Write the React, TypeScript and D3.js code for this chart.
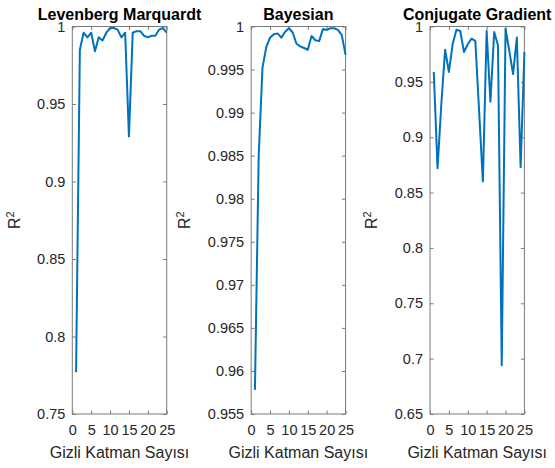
import React, { useEffect, useRef } from 'react';
import * as d3 from 'd3';

// hidden layer counts on the x axis
const hiddenLayers = [1, 2, 3, 4, 5, 6, 7, 8, 9, 10, 11, 12, 13, 14, 15, 16, 17, 18, 19, 20, 21, 22, 23, 24, 25];

// R^2 per training algorithm
const lmValues = [0.777, 0.985, 0.996, 0.993, 0.996, 0.984, 0.993, 0.991, 0.996, 0.999, 0.999, 0.998, 0.993,
    0.996, 0.929, 0.996, 0.997, 0.997, 0.994, 0.993, 0.994, 0.994, 0.998, 0.999, 0.996];
const bayesValues = [0.9578, 0.985, 0.9952, 0.9976, 0.9987, 0.9991, 0.9992, 0.9987, 0.9994, 0.9998, 0.9993,
    0.998, 0.9977, 0.9975, 0.9973, 0.9989, 0.9984, 0.9983, 0.9997, 0.9996, 0.9998, 0.9998, 0.9996, 0.999, 0.9967];
const cgValues = [0.959, 0.872, 0.93, 0.979, 0.959, 0.984, 0.997, 0.996, 0.977, 0.984, 0.989, 0.987, 0.924,
    0.86, 0.996, 0.932, 0.995, 0.983, 0.694, 0.998, 0.978, 0.957, 0.99, 0.873, 0.977];

const xTicks = [0, 5, 10, 15, 20, 25];
const lmTicks = [0.75, 0.8, 0.85, 0.9, 0.95, 1];
const bayesTicks = [0.955, 0.96, 0.965, 0.97, 0.975, 0.98, 0.985, 0.99, 0.995, 1];
const cgTicks = [0.65, 0.7, 0.75, 0.8, 0.85, 0.9, 0.95, 1];

const titles = ['Levenberg Marquardt', 'Bayesian', 'Conjugate Gradient'];
const xLabel = 'Gizli Katman Sayısı';

const FONT = '"Liberation Sans", Arial, Helvetica, sans-serif';

const App = () => {
    const ref = useRef<SVGSVGElement>(null);

    useEffect(() => {
        const svg = d3.select(ref.current);
        svg.selectAll('*').remove();

        const panels = [
            { title: titles[0], values: lmValues, ticks: lmTicks },
            { title: titles[1], values: bayesValues, ticks: bayesTicks },
            { title: titles[2], values: cgValues, ticks: cgTicks },
        ];

        const W = 94.4, top = 26.5, bottom = 414;

        panels.forEach((p, i) => {
            const left = 72.3 + 178.85 * i;
            const g = svg.append('g');

            const x = d3.scaleLinear().domain([0, 25]).range([left, left + W]);
            const y = d3.scaleLinear().domain([p.ticks[0], p.ticks[p.ticks.length - 1]]).range([bottom, top]);

            const styleAxis = (a) => {
                a.select('.domain').remove();
                a.attr('font-size', 14.5).attr('font-family', FONT);
                a.selectAll('line').attr('stroke', '#7a7a7a');
                a.selectAll('text').attr('fill', '#262626');
            };

            g.append('g')
                .attr('transform', `translate(0,${bottom})`)
                .call(d3.axisBottom(x).tickValues(xTicks).tickSizeInner(-3.5).tickSizeOuter(0).tickPadding(11))
                .call(styleAxis);
            g.append('g')
                .attr('transform', `translate(0,${top})`)
                .call(d3.axisTop(x).tickValues(xTicks).tickSizeInner(-3.5).tickSizeOuter(0).tickFormat(() => ''))
                .call(styleAxis);
            const yAx = g.append('g')
                .attr('transform', `translate(${left},0)`)
                .call(d3.axisLeft(y).tickValues(p.ticks).tickSizeInner(-3.5).tickSizeOuter(0).tickPadding(7)
                    .tickFormat(d => String(+(+d).toFixed(3))))
                .call(styleAxis);
            g.append('g')
                .attr('transform', `translate(${left + W},0)`)
                .call(d3.axisRight(y).tickValues(p.ticks).tickSizeInner(-3.5).tickSizeOuter(0).tickFormat(() => ''))
                .call(styleAxis);

            g.append('rect')
                .attr('x', left).attr('y', top)
                .attr('width', W).attr('height', bottom - top)
                .attr('fill', 'none').attr('stroke', '#7a7a7a');

            const line = d3.line<number>()
                .x((d, k) => x(hiddenLayers[k]))
                .y(d => y(d));

            g.append('path')
                .datum(p.values)
                .attr('d', line)
                .attr('fill', 'none')
                .attr('stroke', '#0072BD')
                .attr('stroke-width', 2)
                .attr('stroke-linejoin', 'round');

            g.append('text')
                .attr('x', left + W / 2).attr('y', 20)
                .attr('text-anchor', 'middle')
                .attr('font-family', FONT).attr('font-size', 16).attr('font-weight', 'bold')
                .attr('fill', '#000')
                .text(p.title);

            g.append('text')
                .attr('x', left + W / 2).attr('y', 458)
                .attr('text-anchor', 'middle')
                .attr('font-family', FONT).attr('font-size', 16)
                .attr('fill', '#262626')
                .text(xLabel);

            let tw = 0;
            yAx.selectAll('text').each(function () {
                tw = Math.max(tw, (this as SVGTextElement).getComputedTextLength());
            });
            const lx = left - 7 - tw - 17.4;
            const yl = g.append('text')
                .attr('transform', `translate(${lx},${(top + bottom) / 2}) rotate(-90)`)
                .attr('text-anchor', 'middle')
                .attr('font-family', FONT).attr('font-size', 16)
                .attr('fill', '#262626');
            yl.append('tspan').text('R');
            yl.append('tspan').attr('font-size', 11).attr('dy', -6).text('2');
        });
    }, []);

    return (
        <svg ref={ref} width={555} height={468}
            style={{ position: 'absolute', left: 0, top: 0, background: '#fff', display: 'block' }} />
    );
};

export default App;
